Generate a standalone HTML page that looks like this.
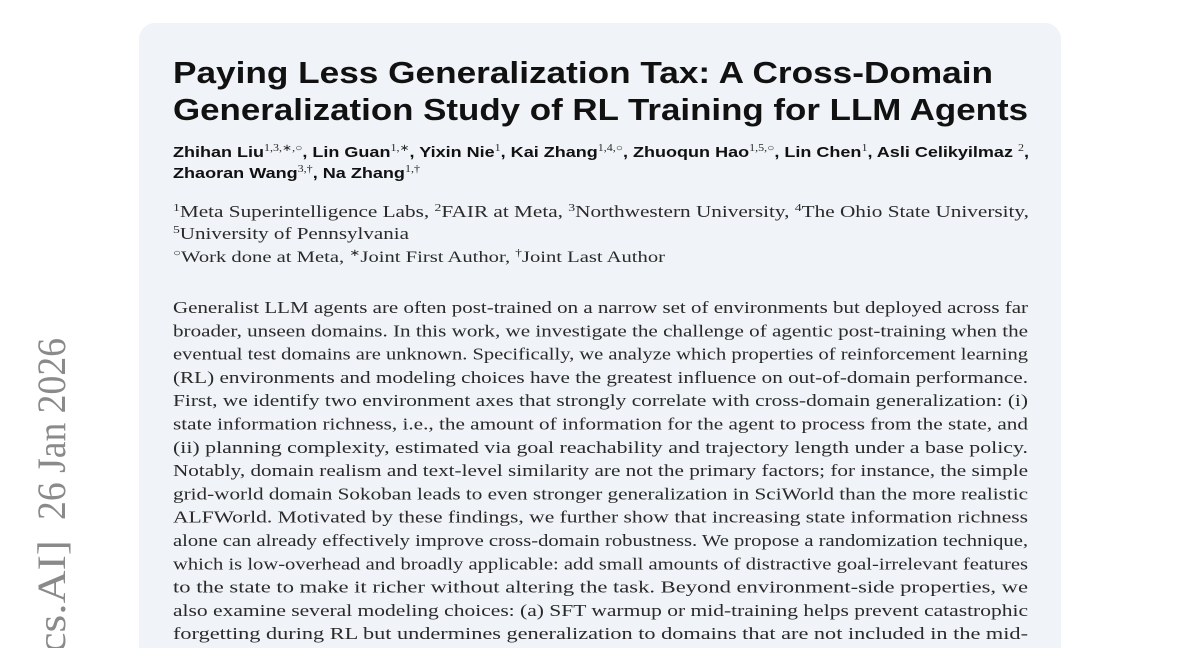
<!DOCTYPE html>
<html><head><meta charset="utf-8"><style>
html,body{margin:0;padding:0;background:#fff;width:1200px;height:648px;overflow:hidden}
svg{display:block;overflow:hidden}
.ser{font-family:"Liberation Serif",serif;fill:#2a2a2a}
.ti{font-family:"Liberation Sans",sans-serif;font-weight:bold;fill:#111}
.au{font-family:"Liberation Sans",sans-serif;font-weight:bold;fill:#111;font-size:15px}
</style></head><body>
<svg width="1200" height="648" viewBox="0 0 1200 648" xmlns="http://www.w3.org/2000/svg">
<clipPath id="c"><rect x="0" y="0" width="1200" height="648"/></clipPath>
<g clip-path="url(#c)">
<rect x="139" y="23" width="922" height="660" rx="16" fill="#f0f3f7"/>
<g font-family="Liberation Serif,serif" font-size="40" fill="#8a8a8a">
<text transform="translate(65,520) rotate(-90)" x="0" textLength="182" lengthAdjust="spacingAndGlyphs">26 Jan 2026</text>
<text transform="translate(65,540) rotate(-90)" x="-128" textLength="128" lengthAdjust="spacingAndGlyphs">[cs.AI]</text>
</g>

<text class="ti" font-size="31" x="173" y="83" textLength="820" lengthAdjust="spacingAndGlyphs">Paying Less Generalization Tax: A Cross-Domain</text>
<text class="ti" font-size="31" x="173" y="120" textLength="855" lengthAdjust="spacingAndGlyphs">Generalization Study of RL Training for LLM Agents</text>

<text class="au" x="173" y="157" textLength="856" lengthAdjust="spacingAndGlyphs">Zhihan Liu<tspan class="ser" font-weight="normal" font-size="10" dy="-6">1,3,∗,○</tspan><tspan dy="6">, Lin Guan</tspan><tspan class="ser" font-weight="normal" font-size="10" dy="-6">1,∗</tspan><tspan dy="6">, Yixin Nie</tspan><tspan class="ser" font-weight="normal" font-size="10" dy="-6">1</tspan><tspan dy="6">, Kai Zhang</tspan><tspan class="ser" font-weight="normal" font-size="10" dy="-6">1,4,○</tspan><tspan dy="6">, Zhuoqun Hao</tspan><tspan class="ser" font-weight="normal" font-size="10" dy="-6">1,5,○</tspan><tspan dy="6">, Lin Chen</tspan><tspan class="ser" font-weight="normal" font-size="10" dy="-6">1</tspan><tspan dy="6">, Asli Celikyilmaz </tspan><tspan class="ser" font-weight="normal" font-size="10" dy="-6">2</tspan><tspan dy="6">,</tspan></text>
<text class="au" x="173" y="178" textLength="247" lengthAdjust="spacingAndGlyphs">Zhaoran Wang<tspan class="ser" font-weight="normal" font-size="10" dy="-6">3,†</tspan><tspan dy="6">, Na Zhang</tspan><tspan class="ser" font-weight="normal" font-size="10" dy="-6">1,†</tspan></text>

<g class="ser" font-size="17">
<text x="173" y="217" textLength="856" lengthAdjust="spacingAndGlyphs"><tspan font-size="11" dy="-6">1</tspan><tspan dy="6">Meta Superintelligence Labs, </tspan><tspan font-size="11" dy="-6">2</tspan><tspan dy="6">FAIR at Meta, </tspan><tspan font-size="11" dy="-6">3</tspan><tspan dy="6">Northwestern University, </tspan><tspan font-size="11" dy="-6">4</tspan><tspan dy="6">The Ohio State University,</tspan></text>
<text x="173" y="239" textLength="236" lengthAdjust="spacingAndGlyphs"><tspan font-size="11" dy="-6">5</tspan><tspan dy="6">University of Pennsylvania</tspan></text>
<text x="173" y="262" font-size="15.5" textLength="492" lengthAdjust="spacingAndGlyphs"><tspan font-size="10" dy="-6">○</tspan><tspan dy="6">Work done at Meta, </tspan><tspan font-size="10" dy="-6">∗</tspan><tspan dy="6">Joint First Author, </tspan><tspan font-size="10" dy="-6">†</tspan><tspan dy="6">Joint Last Author</tspan></text>
</g>

<g class="ser" font-size="17.3">
<text x="173" y="313" textLength="855" lengthAdjust="spacingAndGlyphs">Generalist LLM agents are often post-trained on a narrow set of environments but deployed across far</text>
<text x="173" y="336.3" textLength="855" lengthAdjust="spacingAndGlyphs">broader, unseen domains. In this work, we investigate the challenge of agentic post-training when the</text>
<text x="173" y="359.6" textLength="855" lengthAdjust="spacingAndGlyphs">eventual test domains are unknown. Specifically, we analyze which properties of reinforcement learning</text>
<text x="173" y="382.9" textLength="855" lengthAdjust="spacingAndGlyphs">(RL) environments and modeling choices have the greatest influence on out-of-domain performance.</text>
<text x="173" y="406.2" textLength="855" lengthAdjust="spacingAndGlyphs">First, we identify two environment axes that strongly correlate with cross-domain generalization: (i)</text>
<text x="173" y="429.5" textLength="855" lengthAdjust="spacingAndGlyphs">state information richness, i.e., the amount of information for the agent to process from the state, and</text>
<text x="173" y="452.8" textLength="855" lengthAdjust="spacingAndGlyphs">(ii) planning complexity, estimated via goal reachability and trajectory length under a base policy.</text>
<text x="173" y="476.1" textLength="855" lengthAdjust="spacingAndGlyphs">Notably, domain realism and text-level similarity are not the primary factors; for instance, the simple</text>
<text x="173" y="499.4" textLength="855" lengthAdjust="spacingAndGlyphs">grid-world domain Sokoban leads to even stronger generalization in SciWorld than the more realistic</text>
<text x="173" y="522.7" textLength="855" lengthAdjust="spacingAndGlyphs">ALFWorld. Motivated by these findings, we further show that increasing state information richness</text>
<text x="173" y="546" textLength="855" lengthAdjust="spacingAndGlyphs">alone can already effectively improve cross-domain robustness. We propose a randomization technique,</text>
<text x="173" y="569.3" textLength="855" lengthAdjust="spacingAndGlyphs">which is low-overhead and broadly applicable: add small amounts of distractive goal-irrelevant features</text>
<text x="173" y="592.6" textLength="855" lengthAdjust="spacingAndGlyphs">to the state to make it richer without altering the task. Beyond environment-side properties, we</text>
<text x="173" y="615.9" textLength="855" lengthAdjust="spacingAndGlyphs">also examine several modeling choices: (a) SFT warmup or mid-training helps prevent catastrophic</text>
<text x="173" y="639.2" textLength="855" lengthAdjust="spacingAndGlyphs">forgetting during RL but undermines generalization to domains that are not included in the mid-</text>
</g>
</g>
</svg>
</body></html>
